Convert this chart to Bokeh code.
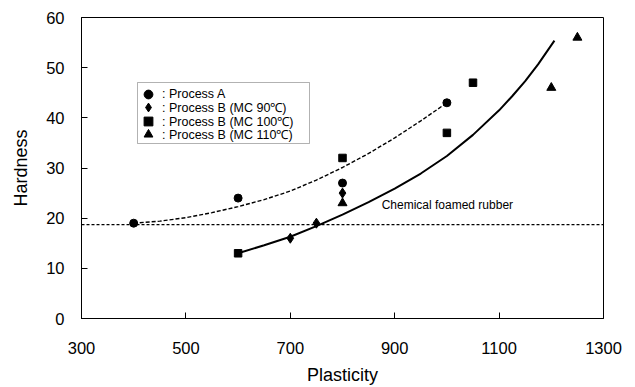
from bokeh.plotting import figure
from bokeh.models import (Legend, LegendItem, Span, FixedTicker, Label, Range1d,
                          BoxAnnotation)
from bokeh.embed import file_html
from bokeh.resources import INLINE

# ---- data ----
procA_x = [400, 600, 800, 1000]
procA_y = [19, 24, 27, 43]

mc90_x = [700, 750, 800]
mc90_y = [16, 19, 25]

mc100_x = [600, 800, 1000, 1050]
mc100_y = [13, 32, 37, 47]

mc110_x = [800, 1200, 1250]
mc110_y = [23, 46, 56]

# trend curves
trendA_x = [400, 450, 500, 550, 600, 650, 700, 750, 800, 850, 900, 950, 1000]
trendA_y = [19.0, 19.4, 20.1, 21.1, 22.3, 23.7, 25.4, 27.6, 30.1, 32.9, 36.0, 39.4, 43.0]

trendB_x = [600, 650, 700, 750, 800, 850, 900, 950, 1000, 1050, 1100, 1125, 1150, 1175, 1206]
trendB_y = [13.0, 14.6, 16.3, 18.4, 20.7, 23.2, 25.9, 28.9, 32.4, 36.6, 41.5, 44.3, 47.3, 50.7, 55.4]

chemical_foamed_hardness = 18.7
chemical_label = "Chemical foamed rubber"
chemical_label_x = 875
chemical_label_y = 22.7

x_ticks = [300, 500, 700, 900, 1100, 1300]
y_ticks = [0, 10, 20, 30, 40, 50, 60]

legend_labels = [": Process A", ": Process B (MC 90\u2103)",
                 ": Process B (MC 100\u2103)", ": Process B (MC 110\u2103)"]

FONT = "Liberation Sans"

p = figure(width=635, height=387, output_backend="svg", toolbar_location=None,
           x_range=Range1d(300, 1300), y_range=Range1d(0, 60),
           min_border_left=81, min_border_right=32, min_border_top=17,
           min_border_bottom=69)

p.xgrid.visible = False
p.ygrid.visible = False
p.outline_line_color = "black"
p.outline_line_width = 1
p.background_fill_color = "white"
p.border_fill_color = "white"

for ax in (p.xaxis[0], p.yaxis[0]):
    ax.axis_line_color = "black"
    ax.axis_line_width = 1
    ax.major_tick_in = 6
    ax.major_tick_out = 0
    ax.minor_tick_line_color = None
    ax.major_tick_line_color = "black"
    ax.major_label_text_font = FONT
    ax.major_label_text_font_size = "16.5px"
    ax.major_label_text_color = "black"
    ax.axis_label_text_font = FONT
    ax.axis_label_text_font_size = "18px"
    ax.axis_label_text_font_style = "normal"
    ax.axis_label_text_color = "black"

p.xaxis.ticker = FixedTicker(ticks=x_ticks)
p.yaxis.ticker = FixedTicker(ticks=y_ticks)
p.xaxis.axis_label = "Plasticity"
p.yaxis.axis_label = "Hardness"
p.xaxis.major_label_standoff = 23
p.xaxis.axis_label_standoff = 8
p.yaxis.major_label_standoff = 17
p.yaxis.axis_label_standoff = 12

# reference line
p.add_layout(Span(location=chemical_foamed_hardness, dimension="width",
                  line_color="black", line_width=1.2, line_dash="3 2"))
p.add_layout(Label(x=chemical_label_x, y=chemical_label_y, text=chemical_label,
                   text_baseline="middle", text_font=FONT, text_font_size="12px",
                   text_color="black"))

# trend curves
p.line(trendA_x, trendA_y, line_color="black", line_width=1.4, line_dash="4 2")
p.line(trendB_x, trendB_y, line_color="black", line_width=2)

rA = p.scatter(procA_x, procA_y, marker="circle", size=8, color="black")
r90 = p.scatter(mc90_x, mc90_y, marker="diamond", size=10, color="black")
r100 = p.scatter(mc100_x, mc100_y, marker="square", size=7.5, color="black")
r110 = p.scatter(mc110_x, mc110_y, marker="triangle", size=9, color="black")

# legend frame (screen units, relative to the plot frame)
p.add_layout(BoxAnnotation(left=56, right=228, bottom=175, top=236,
                           left_units="screen", right_units="screen",
                           top_units="screen", bottom_units="screen",
                           fill_color="white", fill_alpha=1,
                           line_color="black", line_width=1, level="overlay"))

# one legend per row so that the row pitch stays compact with full-size markers
row_offsets = [213, 200, 186, 173]
for lbl, rend, yoff in zip(legend_labels, [rA, r90, r100, r110], row_offsets):
    lg = Legend(items=[LegendItem(label=lbl, renderers=[rend])], location=(56, yoff))
    lg.margin = 0
    lg.padding = 0
    lg.spacing = 0
    lg.glyph_height = 22
    lg.glyph_width = 22
    lg.label_height = 13
    lg.label_standoff = 3
    lg.label_text_font = FONT
    lg.label_text_font_size = "12.5px"
    lg.label_text_color = "black"
    lg.border_line_color = None
    lg.background_fill_alpha = 0
    p.add_layout(lg, "center")

open("out.html", "w").write(file_html(p, INLINE))
